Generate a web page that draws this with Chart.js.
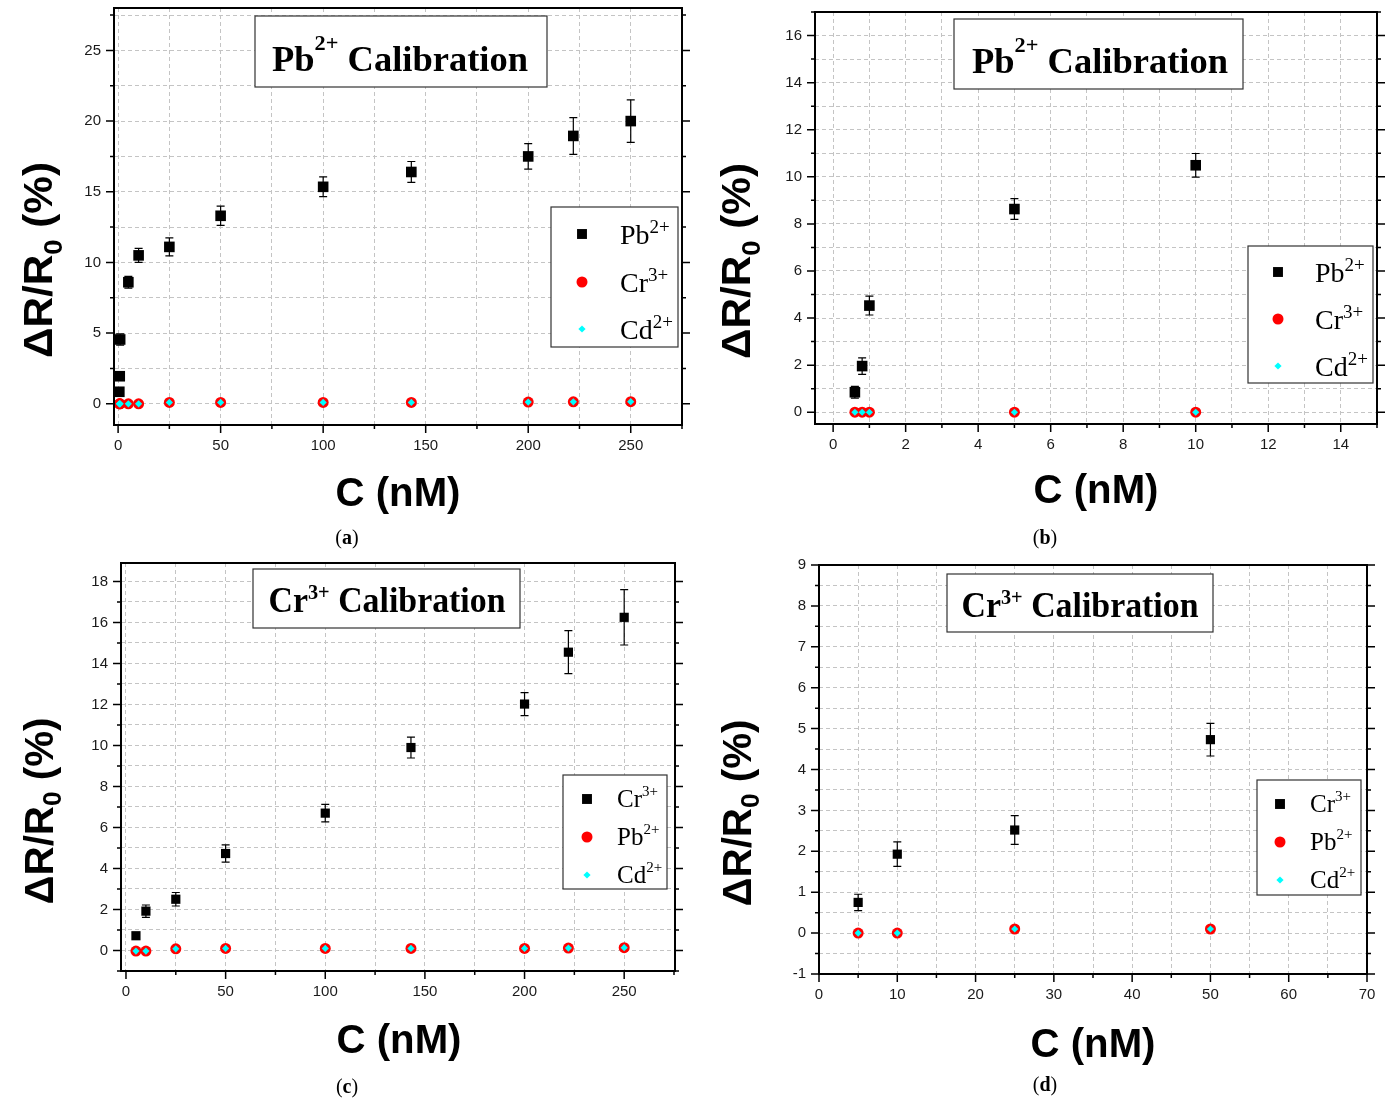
<!DOCTYPE html>
<html>
<head>
<meta charset="utf-8">
<title>Pb2+ / Cr3+ calibration</title>
<script src="https://cdn.jsdelivr.net/npm/chart.js@4.4.1/dist/chart.umd.min.js"></script>
<style>
  body { margin: 0; background: #fff; }
  #wrap { position: relative; width: 1392px; height: 1102px; }
  #wrap canvas { position: absolute; }
</style>
</head>
<body>
<div id="wrap">
  <canvas id="chartA" width="696" height="551" style="left:0;top:0"></canvas>
  <canvas id="chartB" width="696" height="551" style="left:696px;top:0"></canvas>
  <canvas id="chartC" width="696" height="551" style="left:0;top:551px"></canvas>
  <canvas id="chartD" width="696" height="551" style="left:696px;top:551px"></canvas>
</div>
<script>
// (a) Pb2+ calibration, 0-250 nM
const concA = [0.6, 0.8, 1, 5, 10, 25, 50, 100, 143, 200, 222, 250];
const pbA = [0.85, 1.95, 4.55, 8.6, 10.5, 11.1, 13.3, 15.35, 16.4, 17.5, 18.95, 20.0];
const pbErrA = [0.2, 0.3, 0.4, 0.42, 0.5, 0.64, 0.68, 0.7, 0.74, 0.9, 1.3, 1.5];
const crA = [0, 0, 0, 0, 0, 0.1, 0.1, 0.1, 0.1, 0.12, 0.14, 0.15];
const cdA = [0, 0, 0, 0, 0, 0.1, 0.1, 0.1, 0.1, 0.12, 0.14, 0.15];

// (b) Pb2+ calibration, low range
const concB = [0.6, 0.8, 1, 5, 10];
const pbB = [0.85, 1.96, 4.53, 8.63, 10.49];
const pbErrB = [0.25, 0.35, 0.4, 0.44, 0.5];
const crB = [0, 0, 0, 0, 0];
const cdB = [0, 0, 0, 0, 0];

// (c) Cr3+ calibration, 0-250 nM
const concC = [5, 10, 25, 50, 100, 143, 200, 222, 250];
const crC = [0.72, 1.92, 2.5, 4.73, 6.7, 9.9, 12.02, 14.55, 16.25];
const crErrC = [0.15, 0.3, 0.33, 0.42, 0.43, 0.51, 0.56, 1.05, 1.35];
const pbC = [-0.03, -0.03, 0.08, 0.1, 0.1, 0.1, 0.1, 0.12, 0.14];
const cdC = [-0.03, -0.03, 0.08, 0.1, 0.1, 0.1, 0.1, 0.12, 0.14];

// (d) Cr3+ calibration, low range
const concD = [5, 10, 25, 50];
const crD = [0.75, 1.93, 2.52, 4.73];
const crErrD = [0.2, 0.3, 0.35, 0.4];
const pbD = [0, 0, 0.1, 0.1];
const cdD = [0, 0, 0.1, 0.1];

const legendPb = ['Pb2+', 'Cr3+', 'Cd2+'];
const legendCr = ['Cr3+', 'Pb2+', 'Cd2+'];

const xTicksA = [0, 50, 100, 150, 200, 250];
const yTicksA = [0, 5, 10, 15, 20, 25];
const xTicksB = [0, 2, 4, 6, 8, 10, 12, 14];
const yTicksB = [0, 2, 4, 6, 8, 10, 12, 14, 16];
const xTicksC = [0, 50, 100, 150, 200, 250];
const yTicksC = [0, 2, 4, 6, 8, 10, 12, 14, 16, 18];
const xTicksD = [0, 10, 20, 30, 40, 50, 60, 70];
const yTicksD = [-1, 0, 1, 2, 3, 4, 5, 6, 7, 8, 9];

const SERIF = '"Palatino Linotype", "Book Antiqua", Palatino, "Liberation Serif", serif';
const SANS = 'Arial, "Liberation Sans", sans-serif';

// page coordinates of each panel (plot box, title box, legend box ...)
const panels = [
  { id: 'chartA', ox: 0, oy: 0, area: [114, 8, 682, 425],
    x: { min: -2, max: 275, major: xTicksA, minor: 25 },
    y: { min: -1.5, max: 28, major: yTicksA, minor: 2.5 },
    main: { x: concA, y: pbA, err: pbErrA, r: 7.5 }, red: crA, cyan: cdA, cap: 4,
    title: { text: 'Pb2+ Calibration', box: [255, 16, 547, 87], cx: 400, base: 71, size: 36, sup: 22, dy: -21, w: 256 },
    legend: { labels: legendPb, box: [551, 207, 678, 347], rows: [234, 282, 329], mx: 582, lx: 620, size: 28, sup: 19, dy: -11, base: 10 },
    yTitle: { x: 52, y: 260, w: 196, sub: 10 }, xTitle: { x: 398, y: 506 }, caption: { x: 347, y: 537, t: 'a' } },
  { id: 'chartB', ox: 696, oy: 0, area: [815, 12, 1377, 424],
    x: { min: -0.5, max: 15, major: xTicksB, minor: 1 },
    y: { min: -0.5, max: 17, major: yTicksB, minor: 1 },
    main: { x: concB, y: pbB, err: pbErrB, r: 7.5 }, red: crB, cyan: cdB, cap: 4,
    title: { text: 'Pb2+ Calibration', box: [954, 19, 1243, 89], cx: 1100, base: 73, size: 36, sup: 22, dy: -21, w: 256 },
    legend: { labels: legendPb, box: [1248, 246, 1373, 383], rows: [272, 319, 366], mx: 1278, lx: 1315, size: 28, sup: 19, dy: -11, base: 10 },
    yTitle: { x: 750, y: 261, w: 196, sub: 10 }, xTitle: { x: 1096, y: 503 }, caption: { x: 1045, y: 537, t: 'b' } },
  { id: 'chartC', ox: 0, oy: 551, area: [121, 563, 675, 971],
    x: { min: -2.5, max: 275.5, major: xTicksC, minor: 25 },
    y: { min: -1, max: 18.9, major: yTicksC, minor: 1 },
    main: { x: concC, y: crC, err: crErrC, r: 6.5 }, red: pbC, cyan: cdC, cap: 4,
    title: { text: 'Cr3+ Calibration', box: [253, 569, 520, 628], cx: 387, base: 612, size: 35, sup: 21, dy: -13, w: 237 },
    legend: { labels: legendCr, box: [563, 775, 667, 889], rows: [799, 837, 875], mx: 587, lx: 617, size: 25, sup: 15, dy: -11, base: 8 },
    yTitle: { x: 53, y: 811, w: 187, sub: 8 }, xTitle: { x: 399, y: 1053 }, caption: { x: 347, y: 1086, t: 'c' } },
  { id: 'chartD', ox: 696, oy: 551, area: [819, 565, 1367, 974],
    x: { min: 0, max: 70, major: xTicksD, minor: 5 },
    y: { min: -1, max: 9, major: yTicksD, minor: 0.5 },
    main: { x: concD, y: crD, err: crErrD, r: 6.5 }, red: pbD, cyan: cdD, cap: 4,
    title: { text: 'Cr3+ Calibration', box: [947, 574, 1213, 632], cx: 1080, base: 617, size: 35, sup: 21, dy: -13, w: 237 },
    legend: { labels: legendCr, box: [1257, 780, 1361, 895], rows: [804, 842, 880], mx: 1280, lx: 1310, size: 25, sup: 15, dy: -11, base: 8 },
    yTitle: { x: 751, y: 813, w: 187, sub: 8 }, xTitle: { x: 1093, y: 1057 }, caption: { x: 1045, y: 1084, t: 'd' } }
];

function tickList(min, max, step) {
  const out = [];
  for (let k = Math.ceil(min / step - 1e-9); k * step <= max + 1e-9; k++) out.push(+(k * step).toFixed(4));
  return out;
}

function points(xs, ys) {
  return xs.map((x, i) => ({ x: x, y: ys[i] }));
}

// draw a row of text pieces (for superscripts / subscripts), optionally stretched to a width
function drawRich(ctx, parts, x, y, align, fitW) {
  let w = 0;
  parts.forEach(pt => { ctx.font = pt.font; pt.w = ctx.measureText(pt.t).width; w += pt.w; });
  const sx = fitW ? fitW / w : 1;
  ctx.save();
  ctx.translate(x, y);
  ctx.scale(sx, 1);
  let cx = align === 'center' ? -w / 2 : 0;
  ctx.textAlign = 'left';
  ctx.textBaseline = 'alphabetic';
  parts.forEach(pt => { ctx.font = pt.font; ctx.fillText(pt.t, cx, pt.dy || 0); cx += pt.w; });
  ctx.restore();
}

function ionParts(label, size, sup, dy, bold) {
  const m = label.match(/^([A-Za-z]+)(\d\+)(.*)$/);
  const b = bold ? 'bold ' : '';
  const parts = [{ t: m[1], font: b + size + 'px ' + SERIF }, { t: m[2], font: b + sup + 'px ' + SERIF, dy: dy }];
  if (m[3]) parts.push({ t: m[3], font: b + size + 'px ' + SERIF });
  return parts;
}

function marker(ctx, kind, x, y, r) {
  ctx.beginPath();
  if (kind === 0) { const s = r * Math.SQRT1_2; ctx.fillStyle = '#000'; ctx.rect(x - s, y - s, 2 * s, 2 * s); }
  else if (kind === 1) { ctx.fillStyle = '#ff0000'; ctx.arc(x, y, r, 0, Math.PI * 2); }
  else { ctx.fillStyle = '#00ffff'; ctx.moveTo(x, y - r); ctx.lineTo(x + r, y); ctx.lineTo(x, y + r); ctx.lineTo(x - r, y); ctx.closePath(); }
  ctx.fill();
}

function makeDecor(p) {
  const X = v => v - p.ox, Y = v => v - p.oy;
  return {
    id: 'decor',
    beforeDatasetsDraw(chart) {
      const { ctx, scales } = chart;
      ctx.save();
      ctx.strokeStyle = '#000';
      ctx.lineWidth = 1.2;
      p.main.x.forEach((xv, i) => {
        const px = scales.x.getPixelForValue(xv);
        const top = scales.y.getPixelForValue(p.main.y[i] + p.main.err[i]);
        const bot = scales.y.getPixelForValue(p.main.y[i] - p.main.err[i]);
        ctx.beginPath();
        ctx.moveTo(px, top); ctx.lineTo(px, bot);
        ctx.moveTo(px - p.cap, top); ctx.lineTo(px + p.cap, top);
        ctx.moveTo(px - p.cap, bot); ctx.lineTo(px + p.cap, bot);
        ctx.stroke();
      });
      ctx.restore();
    },
    afterDraw(chart) {
      const { ctx, chartArea: a, scales } = chart;
      ctx.save();
      // frame + outward ticks
      ctx.strokeStyle = '#000';
      ctx.lineWidth = 2;
      ctx.strokeRect(a.left, a.top, a.width, a.height);
      ctx.lineWidth = 1.5;
      ctx.beginPath();
      scales.y.ticks.forEach(t => {
        const py = scales.y.getPixelForValue(t.value);
        const len = p.y.major.includes(t.value) ? 8 : 4;
        ctx.moveTo(a.left, py); ctx.lineTo(a.left - len, py);
        ctx.moveTo(a.right, py); ctx.lineTo(a.right + len, py);
      });
      scales.x.ticks.forEach(t => {
        const px = scales.x.getPixelForValue(t.value);
        const len = p.x.major.includes(t.value) ? 8 : 4;
        ctx.moveTo(px, a.bottom); ctx.lineTo(px, a.bottom + len);
      });
      ctx.stroke();

      // title box
      const tb = p.title.box;
      ctx.fillStyle = '#fff';
      ctx.fillRect(X(tb[0]), Y(tb[1]), tb[2] - tb[0], tb[3] - tb[1]);
      ctx.strokeStyle = '#333';
      ctx.lineWidth = 1.2;
      ctx.strokeRect(X(tb[0]), Y(tb[1]), tb[2] - tb[0], tb[3] - tb[1]);
      ctx.fillStyle = '#000';
      drawRich(ctx, ionParts(p.title.text, p.title.size, p.title.sup, p.title.dy, true),
        X(p.title.cx), Y(p.title.base), 'center', p.title.w);

      // legend box
      const lg = p.legend, lb = lg.box;
      ctx.fillStyle = '#fff';
      ctx.fillRect(X(lb[0]), Y(lb[1]), lb[2] - lb[0], lb[3] - lb[1]);
      ctx.strokeRect(X(lb[0]), Y(lb[1]), lb[2] - lb[0], lb[3] - lb[1]);
      const mr = [7, 5.5, 3.6];
      lg.labels.forEach((lab, i) => {
        marker(ctx, i, X(lg.mx), Y(lg.rows[i]), mr[i]);
        ctx.fillStyle = '#000';
        drawRich(ctx, ionParts(lab, lg.size, lg.sup, lg.dy, false), X(lg.lx), Y(lg.rows[i] + lg.base), 'left');
      });

      // axis titles
      ctx.fillStyle = '#000';
      ctx.save();
      ctx.translate(X(p.yTitle.x), Y(p.yTitle.y));
      ctx.rotate(-Math.PI / 2);
      drawRich(ctx, [
        { t: '\u0394R/R', font: 'bold 40px ' + SANS },
        { t: '0', font: 'bold 26px ' + SANS, dy: p.yTitle.sub },
        { t: ' (%)', font: 'bold 40px ' + SANS }
      ], 0, 0, 'center', p.yTitle.w);
      ctx.restore();
      drawRich(ctx, [{ t: 'C (nM)', font: 'bold 40px ' + SANS }], X(p.xTitle.x), Y(p.xTitle.y), 'center', 125);

      // panel caption
      drawRich(ctx, [
        { t: '(', font: '20px ' + SERIF },
        { t: p.caption.t, font: 'bold 20px ' + SERIF },
        { t: ')', font: '20px ' + SERIF }
      ], X(p.caption.x), Y(p.caption.y + 7), 'center');
      ctx.restore();
    }
  };
}

function axis(p, ax, isX) {
  const cfg = p[ax];
  return {
    type: 'linear',
    min: cfg.min,
    max: cfg.max,
    afterBuildTicks: s => { s.ticks = tickList(cfg.min, cfg.max, cfg.minor).map(v => ({ value: v })); },
    afterFit: s => {
      if (isX) { s.height = 30; s.paddingLeft = 0; s.paddingRight = 0; }
      else { s.width = 50; s.paddingTop = 0; s.paddingBottom = 0; }
    },
    ticks: {
      autoSkip: false,
      maxRotation: 0,
      padding: isX ? 12 : 13,
      color: '#1a1a1a',
      font: { family: SANS, size: 15 },
      callback: v => cfg.major.includes(v) ? String(v) : ''
    },
    grid: { color: '#c4c4c4', lineWidth: 1, drawTicks: false },
    border: { display: false, dash: [4, 3] }
  };
}

panels.forEach(p => {
  const L = p.area[0] - p.ox, T = p.area[1] - p.oy, R = p.area[2] - p.ox, B = p.area[3] - p.oy;
  new Chart(document.getElementById(p.id), {
    type: 'scatter',
    data: {
      datasets: [
        { data: points(p.main.x, p.main.y), pointStyle: 'rect', pointRadius: p.main.r, pointHoverRadius: p.main.r,
          backgroundColor: '#000', borderWidth: 0, order: 2 },
        { data: points(p.main.x, p.red), pointStyle: 'circle', pointRadius: 5.5, pointHoverRadius: 5.5,
          backgroundColor: '#ff0000', borderWidth: 0, order: 1 },
        { data: points(p.main.x, p.cyan), pointStyle: 'rectRot', pointRadius: 3.6, pointHoverRadius: 3.6,
          backgroundColor: '#00ffff', borderWidth: 0, order: 0 }
      ]
    },
    options: {
      responsive: false,
      animation: false,
      layout: { padding: { left: L - 50, top: T, right: 696 - R, bottom: 551 - B - 30 } },
      plugins: { legend: { display: false }, tooltip: { enabled: false } },
      scales: { x: axis(p, 'x', true), y: axis(p, 'y', false) }
    },
    plugins: [makeDecor(p)]
  });
});
</script>
</body>
</html>
